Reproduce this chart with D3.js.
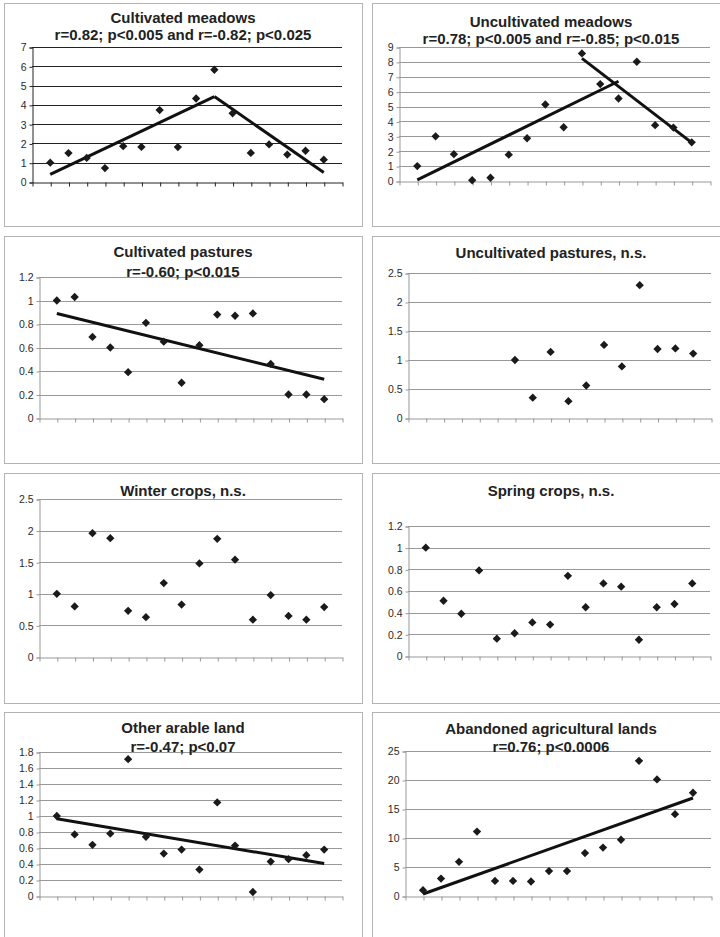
<!DOCTYPE html>
<meta charset="utf-8">

<head>
    <style>
        body {
            margin: 0;
            background: #fff;
        }

        svg {
            display: block;
        }

        .title {
            font-family: "Liberation Sans", Arial, sans-serif;
            font-weight: bold;
            font-size: 15px;
            fill: #222;
            text-anchor: middle;
        }

        .tick text {
            font-family: "Liberation Sans", Arial, sans-serif;
            font-size: 10.5px;
            fill: #2a2a2a;
        }
    </style>
    <script src="https://d3js.org/d3.v7.min.js"></script>
</head>

<body>
    <script>
        const width = 720
        const height = 937

        // sites along the x axis (no labels in the original)
        const sites = [1, 2, 3, 4, 5, 6, 7, 8, 9, 10, 11, 12, 13, 14, 15, 16]

        const cultMeadows = [1.0, 1.5, 1.25, 0.72, 1.86, 1.82, 3.73, 1.81, 4.33, 5.82, 3.56, 1.51, 1.95, 1.42, 1.62, 1.16]
        const uncultMeadows = [1.0, 3.0, 1.8, 0.05, 0.22, 1.77, 2.87, 5.14, 3.61, 8.57, 6.51, 5.54, 8.01, 3.75, 3.59, 2.6]
        const cultPastures = [1.0, 1.03, 0.69, 0.6, 0.39, 0.81, 0.65, 0.3, 0.62, 0.88, 0.87, 0.89, 0.46, 0.2, 0.2, 0.16]
        const uncultPastures = [null, null, null, null, null, 1.0, 0.35, 1.14, 0.29, 0.56, 1.26, 0.89, 2.29, 1.19, 1.2, 1.11]
        const winterCrops = [1.0, 0.8, 1.96, 1.88, 0.73, 0.63, 1.17, 0.83, 1.48, 1.87, 1.54, 0.59, 0.98, 0.65, 0.59, 0.79]
        const springCrops = [1.0, 0.51, 0.39, 0.79, 0.16, 0.21, 0.31, 0.29, 0.74, 0.45, 0.67, 0.64, 0.15, 0.45, 0.48, 0.67]
        const otherArable = [1.0, 0.77, 0.64, 0.78, 1.71, 0.74, 0.53, 0.58, 0.33, 1.17, 0.63, 0.05, 0.43, 0.46, 0.51, 0.58]
        const abandoned = [1.0, 3.0, 5.9, 11.1, 2.6, 2.6, 2.5, 4.3, 4.3, 7.4, 8.35, 9.7, 23.3, 20.1, 14.1, 17.8]

        // trend line segments, [site, value] end points
        const cultMeadowsTrend = [[[1, 0.4], [10, 4.43]], [[10, 4.43], [16, 0.49]]]
        const uncultMeadowsTrend = [[[1, 0.07], [12, 6.7]], [[10, 8.24], [16, 2.58]]]
        const cultPasturesTrend = [[[1, 0.89], [16, 0.33]]]
        const otherArableTrend = [[[1, 0.965], [16, 0.405]]]
        const abandonedTrend = [[[1, 0.35], [16, 16.9]]]

        const ticksCultMeadows = [0, 1, 2, 3, 4, 5, 6, 7]
        const ticksUncultMeadows = [0, 1, 2, 3, 4, 5, 6, 7, 8, 9]
        const ticksPastures = [0, 0.2, 0.4, 0.6, 0.8, 1, 1.2]
        const ticksHalf = [0, 0.5, 1, 1.5, 2, 2.5]
        const ticksOther = [0, 0.2, 0.4, 0.6, 0.8, 1, 1.2, 1.4, 1.6, 1.8]
        const ticksAbandoned = [0, 5, 10, 15, 20, 25]

        const titles = [
            ["Cultivated meadows", "r=0.82; p<0.005 and r=-0.82; p<0.025"],
            ["Uncultivated meadows", "r=0.78; p<0.005 and r=-0.85; p<0.015"],
            ["Cultivated pastures", "r=-0.60; p<0.015"],
            ["Uncultivated pastures, n.s."],
            ["Winter crops, n.s."],
            ["Spring crops, n.s."],
            ["Other arable land", "r=-0.47; p<0.07"],
            ["Abandoned agricultural lands", "r=0.76; p<0.0006"]
        ]
        const series = [cultMeadows, uncultMeadows, cultPastures, uncultPastures, winterCrops, springCrops, otherArable, abandoned]
        const trends = [cultMeadowsTrend, uncultMeadowsTrend, cultPasturesTrend, [], [], [], otherArableTrend, abandonedTrend]
        const yTicks = [ticksCultMeadows, ticksUncultMeadows, ticksPastures, ticksHalf, ticksHalf, ticksPastures, ticksOther, ticksAbandoned]

        // layout: frame box, plot area, title baselines, grid colour
        const layout = [
            { fx: 4, fy: 3, fw: 358, fh: 223, l: 32, r: 342, t: 47, b: 182, ty: [23, 40], grid: "#222" },
            { fx: 372, fy: 3, fw: 358, fh: 223, l: 399, r: 710, t: 47, b: 181, ty: [27, 44], grid: "#999" },
            { fx: 4, fy: 236, fw: 358, fh: 227, l: 39, r: 342, t: 277, b: 418, ty: [257, 277], grid: "#999" },
            { fx: 372, fy: 236, fw: 358, fh: 227, l: 408, r: 711, t: 273, b: 418, ty: [258], grid: "#999" },
            { fx: 4, fy: 473, fw: 358, fh: 230, l: 39, r: 342, t: 499, b: 657, ty: [496], grid: "#999" },
            { fx: 372, fy: 473, fw: 358, fh: 230, l: 408, r: 710, t: 526, b: 656, ty: [496], grid: "#999" },
            { fx: 4, fy: 712, fw: 358, fh: 240, l: 39, r: 342, t: 752, b: 896, ty: [733, 752], grid: "#999" },
            { fx: 372, fy: 712, fw: 358, fh: 240, l: 405, r: 711, t: 751, b: 896, ty: [734, 752], grid: "#999" }
        ]

        const svg = d3.select("body").append("svg")
            .attr("width", width)
            .attr("height", height)

        const diamond = d3.symbol().type(d3.symbolDiamond2).size(44)

        layout.forEach((p, k) => {
            const g = svg.append("g")
            const ticks = yTicks[k]

            g.append("rect")
                .attr("x", p.fx + 0.5)
                .attr("y", p.fy + 0.5)
                .attr("width", p.fw)
                .attr("height", p.fh)
                .attr("fill", "#fff")
                .attr("stroke", "#b4b4b4")

            const x = d3.scaleLinear().domain([0, 17]).range([p.l, p.r])
            const y = d3.scaleLinear().domain([0, d3.max(ticks)]).range([p.b, p.t])

            // horizontal gridlines
            g.selectAll(".grid")
                .data(ticks.slice(1))
                .enter()
                .append("line")
                .attr("x1", p.l)
                .attr("x2", p.r)
                .attr("y1", (d) => Math.round(y(d)) + 0.5)
                .attr("y2", (d) => Math.round(y(d)) + 0.5)
                .attr("stroke", p.grid)

            const yAxis = g.append("g")
                .attr("transform", `translate(${Math.round(p.l) + 0.5},0.5)`)
                .call(d3.axisLeft(y).tickValues(ticks).tickSize(3).tickPadding(3).tickFormat(d3.format("")))
            yAxis.select(".domain").attr("stroke", p.grid)
            yAxis.selectAll(".tick line").attr("stroke", p.grid)

            const xAxis = g.append("g")
                .attr("transform", `translate(0.5,${Math.round(p.b) + 0.5})`)
                .call(d3.axisBottom(x).tickValues(d3.range(0, 18)).tickSize(4).tickSizeOuter(0).tickFormat(""))
            xAxis.select(".domain").attr("stroke", p.grid)
            xAxis.selectAll(".tick line").attr("stroke", p.grid)

            // trend lines
            const line = d3.line().x((d) => x(d[0])).y((d) => y(d[1]))
            g.selectAll(".trend")
                .data(trends[k])
                .enter()
                .append("path")
                .attr("d", line)
                .attr("fill", "none")
                .attr("stroke", "#111")
                .attr("stroke-width", 3)

            // markers
            g.selectAll(".pt")
                .data(series[k].map((v, i) => [sites[i], v]).filter((d) => d[1] !== null))
                .enter()
                .append("path")
                .attr("d", diamond)
                .attr("transform", (d) => `translate(${x(d[0])},${y(d[1])})`)
                .attr("fill", "#1a1a1a")

            // title
            titles[k].forEach((t, j) => {
                g.append("text")
                    .attr("class", "title")
                    .attr("x", p.fx + p.fw / 2)
                    .attr("y", p.ty[j])
                    .text(t)
            })
        })
    </script>
</body>
